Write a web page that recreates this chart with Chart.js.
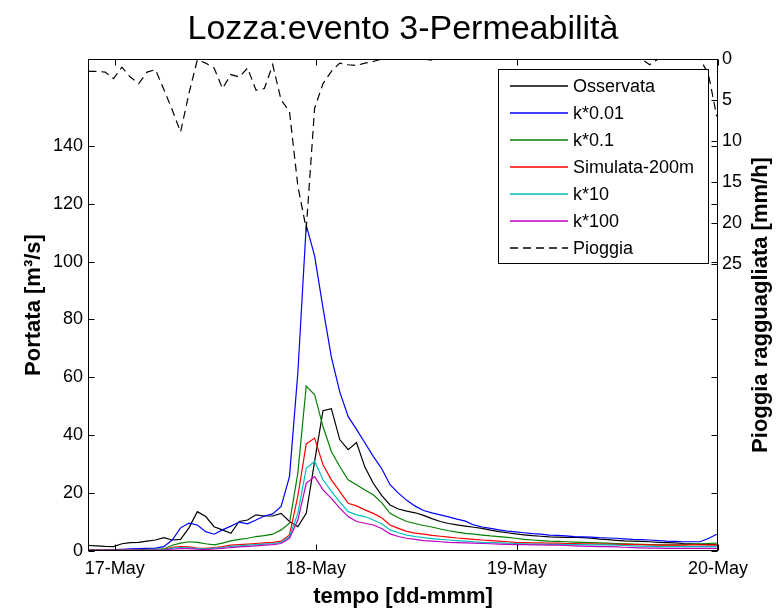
<!DOCTYPE html>
<html lang="it">
<head>
<meta charset="UTF-8">
<title>Lozza: evento 3 - Permeabilità</title>
<script src="https://cdn.jsdelivr.net/npm/chart.js"></script>
<style>
  body { margin: 0; background: #fff; }
  #wrap { width: 780px; height: 610px; }
</style>
</head>
<body>
<div id="wrap"><canvas id="chart" width="780" height="610"></canvas></div>
<script>
// hourly samples; hours counted from 17-May 00:00 (first sample ~16-May 20:50)
const startHour = -3.15;
const dayTicks = [0, 24, 48, 72];
const dayLabels = ['17-May', '18-May', '19-May', '20-May'];
const flowTicks = [0, 20, 40, 60, 80, 100, 120, 140];
const rainTicks = [0, 5, 10, 15, 20, 25];

// portata [m3/s]
const osservata = [
  1.9, 1.8, 1.6, 1.5, 2.5, 2.9, 3.0, 3.4, 3.8, 4.6,
  3.8, 4.0, 8.0, 13.6, 11.9, 8.4, 7.3, 6.1, 10.2, 10.7,
  12.5, 12.1, 12.1, 13.0, 10.2, 8.4, 13.0, 31.0, 48.5, 49.2,
  38.5, 35.0, 37.5, 29.0, 23.4, 19.2, 15.9, 14.5, 13.8, 13.2,
  12.3, 11.2, 10.2, 9.5, 9.0, 8.6, 8.2, 7.8, 7.2, 6.7,
  6.3, 5.9, 5.6, 5.3, 5.1, 4.9, 4.8, 4.7, 4.7, 4.6,
  4.4, 4.1, 3.9, 3.7, 3.5, 3.4, 3.3, 3.2, 3.0, 2.9,
  2.8, 2.6, 2.5, 2.3, 2.2, 2.1
];
const k001 = [
  0.3, 0.3, 0.4, 0.5, 0.6, 0.7, 0.8, 0.9, 1.0, 1.5,
  3.8, 8.0, 9.6, 9.0, 6.7, 5.8, 7.3, 8.6, 10.0, 9.4,
  10.7, 12.1, 12.8, 15.4, 25.7, 61.7, 112.6, 102.0, 84.0, 67.0,
  55.0, 46.5, 42.0, 37.4, 32.7, 28.5, 22.9, 20.0, 17.5, 15.5,
  14.0, 13.2, 12.5, 11.8, 11.0, 10.3, 9.0, 8.3, 7.8, 7.3,
  6.9, 6.6, 6.3, 6.0, 5.8, 5.5, 5.4, 5.2, 5.0, 4.9,
  4.8, 4.6, 4.5, 4.4, 4.2, 4.0, 3.9, 3.8, 3.6, 3.4,
  3.3, 3.2, 3.2, 3.2, 4.3, 5.8
];
const k01 = [
  0.3, 0.3, 0.3, 0.3, 0.3, 0.3, 0.4, 0.6, 0.6, 0.7,
  2.0, 2.7, 3.2, 3.0, 2.5, 2.1, 2.7, 3.5, 4.0, 4.4,
  5.0, 5.3, 5.8, 7.3, 9.6, 27.0, 57.0, 54.0, 43.0, 34.4,
  29.2, 24.6, 22.9, 21.1, 19.4, 16.7, 13.0, 11.5, 10.2, 9.5,
  8.8, 8.3, 7.6, 7.0, 6.5, 6.1, 5.8, 5.5, 5.2, 5.0,
  4.7, 4.4, 4.0, 3.8, 3.6, 3.4, 3.3, 3.2, 3.1, 3.0,
  2.9, 2.8, 2.7, 2.6, 2.5, 2.4, 2.3, 2.2, 2.1, 2.1,
  2.1, 2.2, 2.4, 2.5, 2.6, 2.7
];
const simulata200 = [
  0.3, 0.3, 0.3, 0.3, 0.3, 0.3, 0.3, 0.4, 0.4, 0.5,
  1.3, 1.5, 1.4, 1.0, 0.9, 1.2, 1.5, 2.0, 2.2, 2.4,
  2.6, 2.8, 3.0, 3.4, 5.5, 19.0, 37.0, 39.0, 29.8, 24.6,
  20.6, 16.5, 15.6, 14.2, 13.0, 11.5, 9.0, 7.8, 6.8, 6.2,
  5.8, 5.4, 5.1, 4.8, 4.5, 4.3, 4.0, 3.8, 3.6, 3.4,
  3.2, 3.0, 2.9, 2.8, 2.8, 2.7, 2.7, 2.6, 2.6, 2.5,
  2.5, 2.4, 2.4, 2.3, 2.3, 2.2, 2.2, 2.1, 2.0, 2.0,
  2.0, 2.0, 2.1, 2.1, 2.1, 2.1
];
const k10 = [
  0.2, 0.2, 0.2, 0.2, 0.2, 0.2, 0.2, 0.3, 0.3, 0.3,
  1.0, 1.2, 1.1, 0.8, 0.7, 1.0, 1.2, 1.6, 1.8, 2.0,
  2.2, 2.4, 2.6, 3.0, 5.0, 13.0, 28.6, 31.0, 24.6, 20.6,
  17.0, 13.6, 12.5, 11.9, 10.7, 9.4, 7.3, 6.3, 5.5, 5.0,
  4.6, 4.3, 4.0, 3.8, 3.6, 3.4, 3.2, 3.0, 2.9, 2.8,
  2.7, 2.6, 2.5, 2.4, 2.4, 2.3, 2.3, 2.2, 2.2, 2.2,
  2.1, 2.1, 2.1, 2.0, 1.9, 1.8, 1.7, 1.6, 1.5, 1.5,
  1.5, 1.5, 1.5, 1.5, 1.5, 1.5
];
const k100 = [
  0.2, 0.2, 0.2, 0.2, 0.2, 0.2, 0.2, 0.2, 0.2, 0.2,
  0.6, 0.8, 0.8, 0.6, 0.5, 0.7, 0.9, 1.2, 1.4, 1.6,
  1.8, 2.0, 2.2, 2.6, 4.4, 10.7, 23.4, 25.7, 21.1, 18.2,
  14.8, 11.9, 10.2, 9.6, 9.0, 7.8, 5.9, 5.0, 4.4, 4.0,
  3.6, 3.4, 3.2, 3.0, 2.9, 2.8, 2.7, 2.6, 2.5, 2.4,
  2.3, 2.2, 2.2, 2.1, 2.1, 2.0, 2.0, 1.9, 1.8, 1.7,
  1.6, 1.5, 1.5, 1.4, 1.3, 1.2, 1.1, 1.0, 1.0, 0.9,
  0.9, 0.9, 0.9, 0.9, 0.9, 0.9
];
// pioggia ragguagliata [mm/h]
const pioggia = [
  1.5, 1.5, 1.6, 2.4, 1.0, 2.2, 3.0, 1.6, 1.3, 3.7,
  6.2, 8.9, 4.2, 0.1, 0.5, 1.1, 3.6, 1.9, 2.2, 1.1,
  3.8, 3.6, 0.7, 5.0, 6.4, 15.5, 20.7, 6.0, 3.0, 1.5,
  0.5, 0.7, 0.8, 0.5, 0.3, 0, 0, 0, 0, 0,
  0, 0.15, 0, 0, 0, 0, 0, 0, 0, 0,
  0, 0, 0, 0, 0, 0, 0, 0, 0, 0,
  0, 0, 0, 0, 0, 0, 0, 0.7, 0, 0,
  0, 0, 0, 0, 1.8, 7.0
];

const FONT = "'Liberation Sans', Arial, Helvetica, sans-serif";
const chartTitle = 'Lozza:evento 3-Permeabilità';
const rainTitle = 'Pioggia ragguagliata [mm/h]';

function series(values) {
  return values.map((v, i) => ({ x: startHour + i, y: v }));
}

function line(label, values, color, order, extra) {
  return Object.assign({
    label: label,
    data: series(values),
    borderColor: color,
    backgroundColor: color,
    borderWidth: 1.2,
    pointRadius: 0,
    tension: 0,
    fill: false,
    yAxisID: 'y',
    order: order
  }, extra || {});
}

// box, inward ticks, legend, title and right label, drawn like the matlab figure
const frameAndLegend = {
  id: 'frameAndLegend',
  afterDatasetsDraw(chart) {
    const { ctx, chartArea: a, scales } = chart;
    const L = Math.round(a.left) + 0.5, R = Math.round(a.right) - 0.5;
    const T = Math.round(a.top) + 0.5, B = Math.round(a.bottom) - 0.5;
    const tick = 6;
    ctx.save();
    ctx.strokeStyle = '#000';
    ctx.lineWidth = 1;
    ctx.strokeRect(L, T, R - L, B - T);
    ctx.beginPath();
    dayTicks.forEach(v => {
      const x = Math.round(scales.x.getPixelForValue(v)) + 0.5;
      ctx.moveTo(x, B); ctx.lineTo(x, B - tick);
      ctx.moveTo(x, T); ctx.lineTo(x, T + tick);
    });
    flowTicks.forEach(v => {
      const y = Math.round(scales.y.getPixelForValue(v)) + 0.5;
      ctx.moveTo(L, y); ctx.lineTo(L + tick, y);
      ctx.moveTo(R, y); ctx.lineTo(R - tick, y);
    });
    rainTicks.forEach(v => {
      const y = Math.round(scales.y2.getPixelForValue(v)) + 0.5;
      ctx.moveTo(R, y); ctx.lineTo(R - tick, y);
    });
    ctx.stroke();

    // legend
    const bw = 210, bh = 194;
    const bx = Math.round(a.right) - 220, by = Math.round(a.top) + 10;
    ctx.fillStyle = '#fff';
    ctx.fillRect(bx, by, bw, bh);
    ctx.strokeRect(bx + 0.5, by + 0.5, bw, bh);
    ctx.font = '18px ' + FONT;
    ctx.textAlign = 'left';
    ctx.textBaseline = 'middle';
    chart.data.datasets.forEach((ds, i) => {
      const y = by + 17 + i * 27;
      ctx.strokeStyle = ds.borderColor;
      ctx.lineWidth = 1.6;
      ctx.setLineDash(ds.borderDash || []);
      ctx.beginPath();
      ctx.moveTo(bx + 12, y);
      ctx.lineTo(bx + 70, y);
      ctx.stroke();
      ctx.setLineDash([]);
      ctx.fillStyle = '#000';
      ctx.fillText(ds.label, bx + 75, y + 1);
    });

    // title
    ctx.font = '34px ' + FONT;
    ctx.textAlign = 'center';
    ctx.textBaseline = 'alphabetic';
    ctx.fillStyle = '#000';
    ctx.fillText(chartTitle, (a.left + a.right) / 2, 39);

    // right axis label reads bottom to top, as on the left
    ctx.font = 'bold 22px ' + FONT;
    ctx.textBaseline = 'middle';
    ctx.translate(scales.y2.right - 19, (a.top + a.bottom) / 2);
    ctx.rotate(-Math.PI / 2);
    ctx.fillText(rainTitle, 0, 0);
    ctx.restore();
  }
};

const tickFont = { family: FONT, size: 18 };
const titleFont = { family: FONT, size: 22, weight: 'bold' };

new Chart(document.getElementById('chart'), {
  type: 'line',
  data: {
    datasets: [
      line('Osservata', osservata, '#000000', 6),
      line('k*0.01', k001, '#0000ff', 5),
      line('k*0.1', k01, '#008000', 4),
      line('Simulata-200m', simulata200, '#ff0000', 3),
      line('k*10', k10, '#00bfbf', 2),
      line('k*100', k100, '#bf00bf', 1),
      line('Pioggia', pioggia, '#000000', 0, { yAxisID: 'y2', borderDash: [8, 5] })
    ]
  },
  options: {
    responsive: false,
    animation: false,
    devicePixelRatio: 1,
    layout: { padding: { top: 59, left: 0, right: 0, bottom: 0 } },
    plugins: {
      legend: { display: false },
      tooltip: { enabled: false },
      title: { display: false }
    },
    scales: {
      x: {
        type: 'linear',
        min: -3.2,
        max: 72,
        grid: { display: false, drawTicks: false },
        border: { display: false },
        afterBuildTicks: s => { s.ticks = dayTicks.map(v => ({ value: v })); },
        afterFit: s => { s.height = 59; },
        ticks: {
          font: tickFont,
          color: '#000',
          padding: 7,
          maxRotation: 0,
          autoSkip: false,
          callback: (v, i) => dayLabels[i]
        },
        title: { display: true, text: 'tempo [dd-mmm]', font: titleFont, color: '#000', padding: { top: 0, bottom: 0 } }
      },
      y: {
        position: 'left',
        min: 0,
        max: 170,
        grid: { display: false, drawTicks: false },
        border: { display: false },
        afterBuildTicks: s => { s.ticks = flowTicks.map(v => ({ value: v })); },
        afterFit: s => { s.width = 88; },
        ticks: { font: tickFont, color: '#000', padding: 5 },
        title: { display: true, text: 'Portata [m³/s]', font: titleFont, color: '#000', padding: { top: 21, bottom: 0 } }
      },
      y2: {
        position: 'right',
        reverse: true,
        min: 0,
        max: 60,
        grid: { display: false, drawTicks: false },
        border: { display: false },
        afterBuildTicks: s => { s.ticks = rainTicks.map(v => ({ value: v })); },
        afterFit: s => { s.width = 62; },
        ticks: { font: tickFont, color: '#000', padding: 4 },
        title: { display: false }
      }
    }
  },
  plugins: [frameAndLegend]
});
</script>
</body>
</html>
